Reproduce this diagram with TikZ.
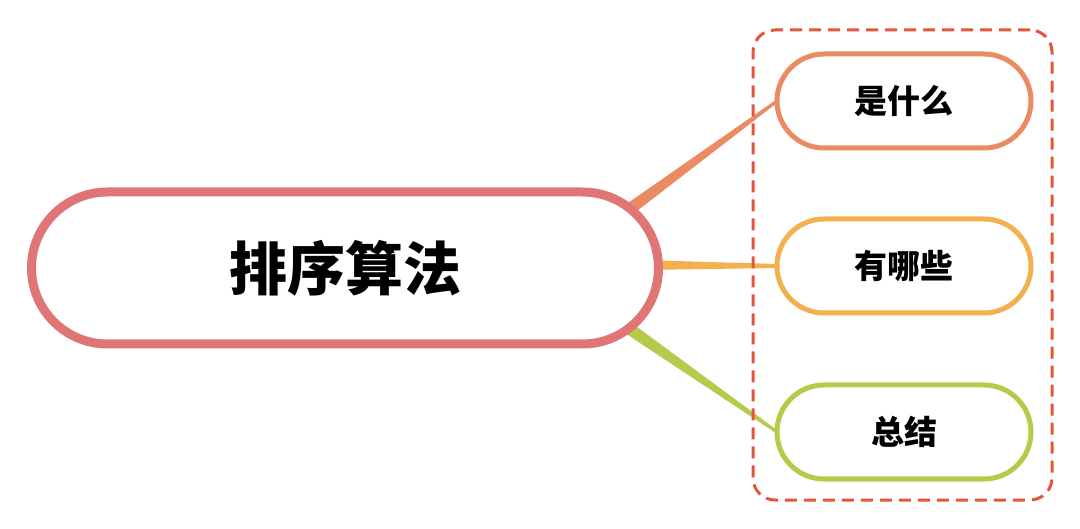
\documentclass[tikz,border=0pt]{standalone}
\usepackage{fontspec}
\newfontfamily\cjk{Noto Sans CJK SC}
\usetikzlibrary{shapes.misc,calc,backgrounds}
\definecolor{mainc}{HTML}{E07575}
\definecolor{c1}{HTML}{EB8B64}
\definecolor{c2}{HTML}{F3B04E}
\definecolor{c3}{HTML}{B5CB4B}
\definecolor{dashc}{HTML}{E5553B}
\newcommand\mytaper[5]{%
  \fill[#5] ($(#1)!#3!90:(#2)$) -- ($(#2)!#4!-90:(#1)$) -- ($(#2)!#4!90:(#1)$) -- ($(#1)!#3!-90:(#2)$) -- cycle;}
\tikzset{
  mainbox/.style={rounded rectangle, draw=mainc, line width=9pt, fill=white,
    minimum width=627pt, minimum height=152pt, inner sep=0pt, outer sep=0pt,
    font=\cjk\bfseries\fontsize{58}{64}\selectfont},
  subbox/.style={rounded rectangle, draw=#1, line width=5pt, fill=white,
    minimum width=254pt, minimum height=94pt, inner sep=0pt, outer sep=0pt,
    font=\cjk\bfseries\fontsize{33}{38}\selectfont},
  groupbox/.style={draw=dashc, line width=3pt, rounded corners=22pt,
    dash pattern=on 12pt off 7pt, minimum width=299pt, minimum height=470pt,
    inner sep=0pt, outer sep=0pt}
}
\begin{document}
\begin{tikzpicture}[x=1pt,y=-1pt]
\useasboundingbox (0,0) rectangle (1080,529);
\node[groupbox] (group) at (902.5,265) {};
\node[mainbox] (main) at (345,268) {排序算法};
\node[subbox=c1] (s1) at (904,101) {是什么};
\node[subbox=c2] (s2) at (904,266) {有哪些};
\node[subbox=c3] (s3) at (904,432) {总结};
\coordinate (m1) at (612,222);
\coordinate (m2) at (640,265);
\coordinate (m3) at (614,318);
\begin{scope}[on background layer]
\fill[white] (0,0) rectangle (1080,529);
\mytaper{m1}{s1.west}{6.5pt}{1.5pt}{c1}
\mytaper{m2}{s2.west}{5pt}{2pt}{c2}
\mytaper{m3}{s3.west}{6.5pt}{1.5pt}{c3}
\end{scope}
\end{tikzpicture}
\end{document}
